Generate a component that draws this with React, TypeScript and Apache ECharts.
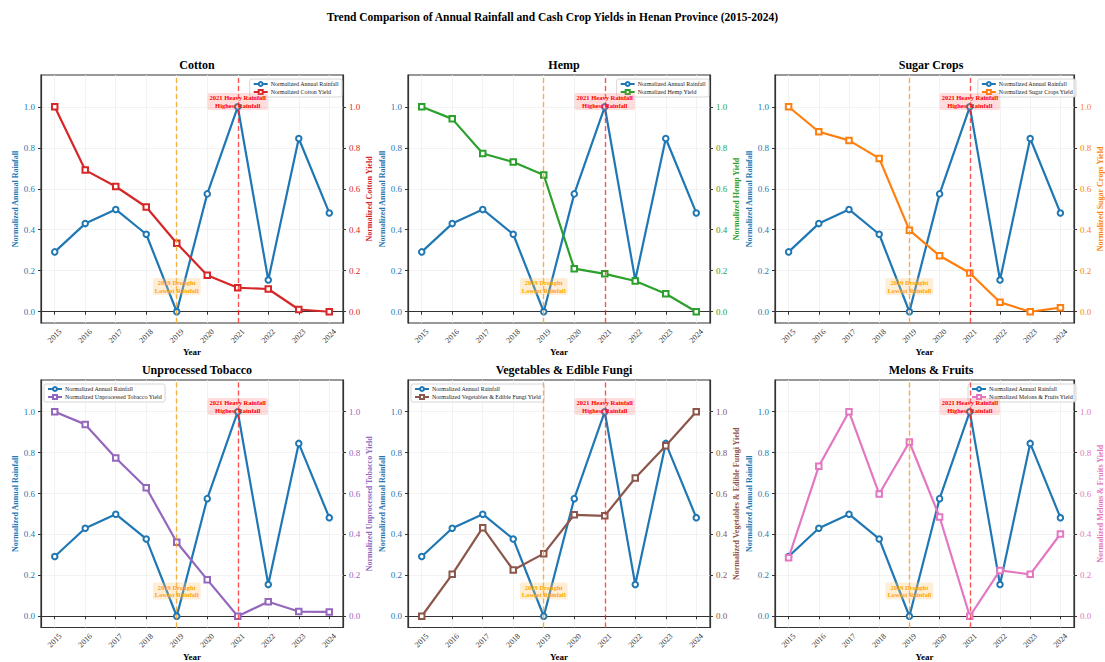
import React, { useEffect, useRef } from 'react';
import * as echarts from 'echarts';

const years = [2015, 2016, 2017, 2018, 2019, 2020, 2021, 2022, 2023, 2024];
const rainfall = [0.292, 0.43, 0.499, 0.378, 0.0, 0.575, 1.0, 0.155, 0.845, 0.482];
const cottonYield = [1.0, 0.691, 0.611, 0.511, 0.334, 0.178, 0.117, 0.111, 0.011, 0.0];
const hempYield = [1.0, 0.941, 0.772, 0.73, 0.667, 0.21, 0.185, 0.15, 0.088, 0.0];
const sugarYield = [1.0, 0.878, 0.836, 0.748, 0.398, 0.273, 0.189, 0.046, 0.0, 0.02];
const tobaccoYield = [1.0, 0.938, 0.774, 0.628, 0.362, 0.179, 0.0, 0.071, 0.023, 0.021];
const vegYield = [0.0, 0.205, 0.433, 0.226, 0.306, 0.496, 0.491, 0.676, 0.834, 1.0];
const melonYield = [0.286, 0.733, 1.0, 0.598, 0.852, 0.485, 0.0, 0.224, 0.205, 0.402];

const cropNames = ['Cotton', 'Hemp', 'Sugar Crops', 'Unprocessed Tobacco', 'Vegetables & Edible Fungi', 'Melons & Fruits'];
const cropYields = [cottonYield, hempYield, sugarYield, tobaccoYield, vegYield, melonYield];
const cropColors = ['#d62728', '#2ca02c', '#ff7f0e', '#9467bd', '#8c564b', '#e377c2'];
const legendLeftSide = [false, false, false, true, true, false];

const yTicks = [0, 0.2, 0.4, 0.6, 0.8, 1.0];
const rainName = 'Normalized Annual Rainfall';
const mainTitle = 'Trend Comparison of Annual Rainfall and Cash Crop Yields in Henan Province (2015-2024)';
const droughtYear = 2019;
const droughtLabelY = 0.123;
const droughtText = '2019 Drought\nLowest Rainfall';
const floodYear = 2021;
const floodLabelY = 1.026;
const floodText = '2021 Heavy Rainfall\nHighest Rainfall';

const FONT = '"Liberation Serif", "DejaVu Serif", serif';
const RAIN_COLOR = '#1f77b4';
const W = 1105;
const H = 662;
const colLefts = [41, 408, 775];
const rowTops = [75, 380];
const PW = 302;
const PH = 248;

function buildOption() {
  const grids: any[] = [];
  const xAxes: any[] = [];
  const yAxes: any[] = [];
  const series: any[] = [];
  const legends: any[] = [];
  const titles: any[] = [
    {
      text: mainTitle,
      left: 'center',
      top: 6,
      textStyle: { fontFamily: FONT, fontSize: 11.5, fontWeight: 'bold', color: '#000' },
    },
  ];

  cropNames.forEach((crop, i) => {
    const row = Math.floor(i / 3);
    const col = i % 3;
    const left = colLefts[col];
    const top = rowTops[row];
    const color = cropColors[i];
    const yieldName = `Normalized ${crop} Yield`;

    grids.push({
      left,
      top,
      width: PW,
      height: PH,
      show: true,
      borderColor: '#333',
      borderWidth: 1.2,
      backgroundColor: '#fff',
    });

    titles.push({
      text: crop,
      left: left + PW / 2,
      textAlign: 'center',
      top: top - 21,
      textStyle: { fontFamily: FONT, fontSize: 12, fontWeight: 'bold', color: '#000' },
    });

    xAxes.push({
      type: 'value',
      gridIndex: i,
      min: 2014.55,
      max: 2024.45,
      name: 'Year',
      nameLocation: 'middle',
      nameGap: 24,
      nameTextStyle: { fontFamily: FONT, fontSize: 9, fontWeight: 'bold', color: '#000' },
      axisLine: { show: true, lineStyle: { color: '#333', width: 1.2 } },
      axisTick: { show: true, customValues: years, length: 3, lineStyle: { color: '#333' } },
      axisLabel: {
        customValues: years,
        rotate: 45,
        align: 'center',
        verticalAlign: 'middle',
        margin: 13,
        fontFamily: FONT,
        fontSize: 8,
        color: '#333',
        formatter: (v: number) => String(Math.round(v)),
      },
      splitLine: { show: true, lineStyle: { color: '#efefef', width: 0.8 } },
    });

    yAxes.push({
      type: 'value',
      gridIndex: i,
      position: 'left',
      min: -0.055,
      max: 1.155,
      name: rainName,
      nameLocation: 'middle',
      nameGap: 22,
      nameTextStyle: { fontFamily: FONT, fontSize: 8, fontWeight: 'bold', color: RAIN_COLOR },
      axisLine: { show: true, lineStyle: { color: '#333', width: 1.2 } },
      axisTick: { show: true, customValues: yTicks, length: 3, lineStyle: { color: '#333' } },
      axisLabel: {
        customValues: yTicks,
        margin: 6,
        fontFamily: FONT,
        fontSize: 9,
        color: RAIN_COLOR,
        formatter: (v: number) => v.toFixed(1),
      },
      splitLine: { show: true, lineStyle: { color: '#efefef', width: 0.8 } },
    });

    yAxes.push({
      type: 'value',
      gridIndex: i,
      position: 'right',
      min: -0.055,
      max: 1.155,
      name: yieldName,
      nameLocation: 'middle',
      nameGap: 22,
      nameTextStyle: { fontFamily: FONT, fontSize: 8, fontWeight: 'bold', color },
      axisLine: { show: true, lineStyle: { color: '#333', width: 1.2 } },
      axisTick: { show: true, customValues: yTicks, length: 3, lineStyle: { color: '#333' } },
      axisLabel: {
        customValues: yTicks,
        margin: 6,
        fontFamily: FONT,
        fontSize: 9,
        color,
        formatter: (v: number) => v.toFixed(1),
      },
      splitLine: { show: false },
    });

    const labelBase = {
      show: true,
      position: 'inside',
      fontFamily: FONT,
      fontSize: 6.5,
      lineHeight: 7.5,
      fontWeight: 'bold',
      padding: [1, 2],
      borderRadius: 2,
    };

    series.push({
      type: 'line',
      name: rainName,
      xAxisIndex: i,
      yAxisIndex: 2 * i,
      data: years.map((y, k) => [y, rainfall[k]]),
      color: RAIN_COLOR,
      lineStyle: { color: RAIN_COLOR, width: 2.2 },
      symbol: 'emptyCircle',
      symbolSize: 5.5,
      itemStyle: { color: RAIN_COLOR, borderWidth: 1.4 },
      z: 2,
      markLine: {
        silent: true,
        symbol: ['none', 'none'],
        label: { show: false },
        animation: false,
        data: [
          { xAxis: droughtYear, lineStyle: { color: 'rgba(245,166,35,0.85)', type: [5, 3], width: 1.4 } },
          { xAxis: floodYear, lineStyle: { color: 'rgba(255,30,30,0.75)', type: [5, 3], width: 1.4 } },
        ],
      },
    });

    series.push({
      type: 'line',
      name: yieldName,
      xAxisIndex: i,
      yAxisIndex: 2 * i + 1,
      data: years.map((y, k) => [y, cropYields[i][k]]),
      color,
      lineStyle: { color, width: 2.2 },
      symbol: 'emptyRect',
      symbolSize: 5.5,
      itemStyle: { color, borderWidth: 1.4 },
      z: 3,
      markPoint: {
        silent: true,
        symbol: 'rect',
        symbolSize: 1,
        itemStyle: { color: 'rgba(0,0,0,0)' },
        animation: false,
        data: [
          {
            coord: [droughtYear, droughtLabelY],
            label: { ...labelBase, formatter: droughtText, color: '#FFA500', backgroundColor: 'rgba(255,200,120,0.3)' },
          },
          {
            coord: [floodYear, floodLabelY],
            label: { ...labelBase, formatter: floodText, color: '#ff0000', backgroundColor: 'rgba(255,120,120,0.25)' },
          },
        ],
      },
    });

    const legend: any = {
      data: [rainName, yieldName],
      orient: 'vertical',
      top: top + 4,
      itemWidth: 14,
      itemHeight: 5,
      itemGap: 2,
      padding: [2, 3],
      backgroundColor: 'rgba(255,255,255,0.85)',
      borderColor: '#cccccc',
      borderWidth: 0.8,
      borderRadius: 2,
      textStyle: { fontFamily: FONT, fontSize: 6, color: '#222', padding: [0, 0, 0, -2] },
      selectedMode: false,
    };
    if (legendLeftSide[i]) {
      legend.left = left + 3;
    } else {
      legend.right = W - (left + PW - 1);
    }
    legends.push(legend);
  });

  return {
    animation: false,
    backgroundColor: '#fff',
    textStyle: { fontFamily: FONT },
    title: titles,
    legend: legends,
    grid: grids,
    xAxis: xAxes,
    yAxis: yAxes,
    series,
  };
}

export default function App() {
  const ref = useRef<HTMLDivElement>(null);
  useEffect(() => {
    document.body.style.margin = '0';
    if (!ref.current) return;
    const chart = echarts.init(ref.current, null, { renderer: 'svg' });
    chart.setOption(buildOption() as any);
    return () => {
      chart.dispose();
    };
  }, []);
  return <div ref={ref} style={{ width: W, height: H }} />;
}
